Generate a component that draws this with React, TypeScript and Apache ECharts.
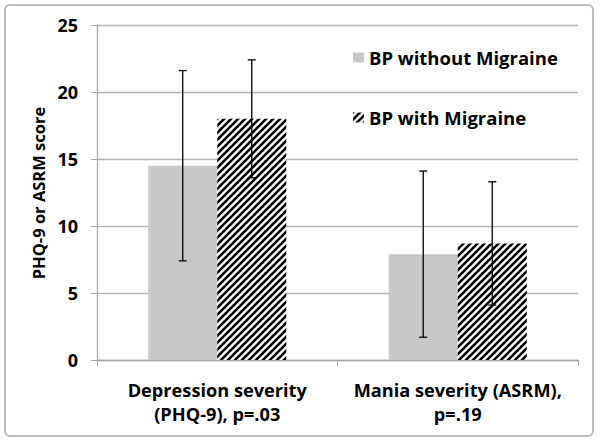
import React, { useEffect, useRef } from "react";
import * as echarts from "echarts";

const categories = ["Depression severity\n(PHQ-9), p=.03", "Mania severity (ASRM),\np=.19"];
const seriesNames = ["BP without Migraine", "BP with Migraine"];
const withoutMean = [14.5, 7.9];
const withoutErr = [7.1, 6.2];
const withMean = [18.0, 8.7];
const withErr = [4.4, 4.6];
const yTicks = { min: 0, max: 25, interval: 5 };
const yTitle = "PHQ-9 or ASRM score";

const BAR_FRAC = 0.287;
const FONT = "'Open Sans', 'Noto Sans', sans-serif";

function makeHatch(): HTMLCanvasElement {
  const s = 7;
  const c = document.createElement("canvas");
  c.width = s;
  c.height = s;
  const ctx = c.getContext("2d")!;
  ctx.fillStyle = "#ffffff";
  ctx.fillRect(0, 0, s, s);
  ctx.strokeStyle = "#000000";
  ctx.lineWidth = 2.6;
  for (const k of [-s, 0, s]) {
    ctx.beginPath();
    ctx.moveTo(k - 1, s + 1);
    ctx.lineTo(k + s + 1, -1);
    ctx.stroke();
  }
  return c;
}

export default function App() {
  const ref = useRef<HTMLDivElement>(null);
  useEffect(() => {
    if (!ref.current) return;
    const chart = echarts.init(ref.current, undefined, { renderer: "svg" });
    const hatch = makeHatch();
    const hatchColor: any = { image: hatch, repeat: "repeat" };

    const errRender = (sign: number) => (params: any, api: any) => {
      const idx = api.value(0);
      const mean = api.value(1);
      const err = api.value(2);
      const band = api.size([1, 0])[0];
      const off = (sign * band * BAR_FRAC) / 2;
      const top = api.coord([idx, mean + err]);
      const bot = api.coord([idx, mean - err]);
      const x = top[0] + off;
      const cap = 4;
      const st = { stroke: "#000", lineWidth: 1.3 };
      return {
        type: "group",
        children: [
          { type: "line", shape: { x1: x, y1: top[1], x2: x, y2: bot[1] }, style: st },
          { type: "line", shape: { x1: x - cap, y1: top[1], x2: x + cap, y2: top[1] }, style: st },
          { type: "line", shape: { x1: x - cap, y1: bot[1], x2: x + cap, y2: bot[1] }, style: st },
        ],
      };
    };

    chart.setOption({
      animation: false,
      textStyle: { fontFamily: FONT },
      grid: { left: 97, right: 22, top: 25, bottom: 81 },
      graphic: [
        {
          type: "rect",
          shape: { x: 5, y: 5, width: 588, height: 431, r: 5 },
          style: { fill: "none", stroke: "#bcbcbc", lineWidth: 2 },
          silent: true,
        },
        {
          type: "text",
          x: 38,
          y: 193,
          rotation: Math.PI / 2,
          style: {
            text: yTitle,
            fontFamily: FONT,
            fontWeight: "bold",
            fontSize: 16.5,
            fill: "#000",
            align: "center",
            verticalAlign: "middle",
          },
          silent: true,
        },
      ],
      legend: {
        orient: "vertical",
        left: 348,
        top: 43,
        itemGap: 41,
        itemWidth: 11,
        itemHeight: 10,
        icon: "rect",
        data: seriesNames,
        textStyle: { fontFamily: FONT, fontWeight: "bold", fontSize: 18.5, color: "#000" },
      },
      xAxis: {
        type: "category",
        data: categories,
        axisLine: { lineStyle: { color: "#a6a6a6", width: 1.3 } },
        axisTick: { show: true, length: 6, lineStyle: { color: "#a6a6a6" } },
        axisLabel: {
          interval: 0,
          fontFamily: FONT,
          fontWeight: "bold",
          fontSize: 18.2,
          color: "#000",
          lineHeight: 24,
          margin: 18,
        },
      },
      yAxis: {
        type: "value",
        min: yTicks.min,
        max: yTicks.max,
        interval: yTicks.interval,
        axisLine: { show: true, lineStyle: { color: "#a6a6a6", width: 1.3 } },
        axisTick: { show: true, length: 6, lineStyle: { color: "#a6a6a6" } },
        splitLine: { lineStyle: { color: "#b3b3b3", width: 1.3 } },
        axisLabel: { fontFamily: FONT, fontWeight: "bold", fontSize: 18, color: "#000", margin: 19 },
      },
      series: [
        {
          name: seriesNames[0],
          type: "bar",
          data: withoutMean,
          barWidth: BAR_FRAC * 100 + "%",
          barGap: "0%",
          itemStyle: { color: "#c8c8c8" },
        },
        {
          name: seriesNames[1],
          type: "bar",
          data: withMean,
          barWidth: BAR_FRAC * 100 + "%",
          barGap: "0%",
          itemStyle: { color: hatchColor },
        },
        {
          type: "custom",
          renderItem: errRender(-1),
          data: withoutMean.map((m, i) => [i, m, withoutErr[i]]),
          encode: { x: 0, y: 1 },
          z: 10,
          silent: true,
        },
        {
          type: "custom",
          renderItem: errRender(1),
          data: withMean.map((m, i) => [i, m, withErr[i]]),
          encode: { x: 0, y: 1 },
          z: 10,
          silent: true,
        },
      ],
    });
    return () => chart.dispose();
  }, []);
  return (
    <div
      ref={ref}
      style={{ position: "absolute", left: 0, top: 0, width: 600, height: 441, background: "#fff" }}
    />
  );
}
